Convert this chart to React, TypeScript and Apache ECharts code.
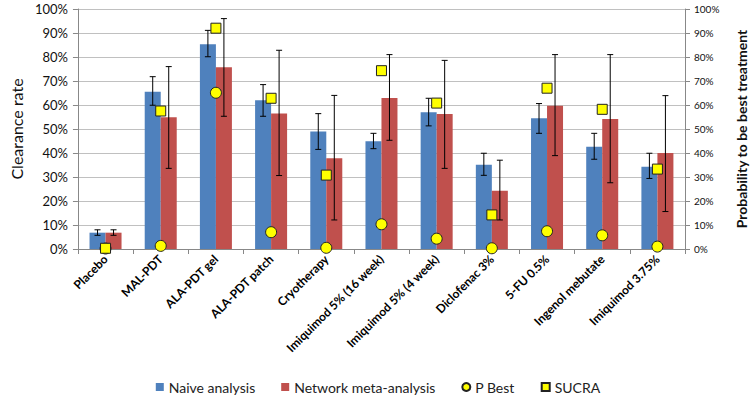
import React, { useEffect, useRef } from "react";
import * as echarts from "echarts";

const categories = [
  "Placebo",
  "MAL-PDT",
  "ALA-PDT gel",
  "ALA-PDT patch",
  "Cryotherapy",
  "Imiquimod 5% (16 week)",
  "Imiquimod 5% (4 week)",
  "Diclofenac 3%",
  "5-FU 0.5%",
  "Ingenol mebutate",
  "Imiquimod 3.75%",
];
const naive = [6.8, 65.5, 85.3, 62, 49, 44.9, 57, 35.1, 54.5, 42.6, 34.3];
const naiveLow = [5.7, 59.9, 80.1, 55.3, 41.5, 41.8, 51.3, 30.7, 48.2, 37.4, 29.4];
const naiveHigh = [8, 71.8, 91.1, 68.5, 56.4, 48.2, 62.8, 39.9, 60.6, 48.2, 39.9];
const nma = [6.8, 54.9, 75.7, 56.5, 37.8, 62.9, 56.3, 24.3, 59.7, 54.2, 40];
const nmaLow = [5.7, 33.6, 55.3, 30.6, 12.1, 45.3, 33.6, 12.1, 38.9, 27.6, 15.6];
const nmaHigh = [8, 76, 96, 82.8, 64, 81, 78.6, 37, 81, 81, 63.9];
const pBest = [0.2, 1.3, 65.1, 7, 0.5, 10.3, 4.3, 0.3, 7.4, 5.7, 1];
const sucra = [0.3, 57.5, 92, 62.8, 30.8, 74.3, 60.8, 14.2, 67, 58.2, 33.3];

const FONT = "Lato, 'Open Sans', sans-serif";
const BAR_FRAC = 0.29;

export default function App() {
  const ref = useRef<HTMLDivElement>(null);
  useEffect(() => {
    if (!ref.current) return;
    const chart = echarts.init(ref.current, null, { renderer: "svg" });

    const errData: number[][] = [];
    categories.forEach((_, i) => {
      errData.push([i, naiveLow[i], naiveHigh[i], -1]);
      errData.push([i, nmaLow[i], nmaHigh[i], 1]);
    });

    const renderErr = (params: any, api: any) => {
      const idx = api.value(0);
      const lo = api.coord([idx, api.value(1)]);
      const hi = api.coord([idx, api.value(2)]);
      const side = api.value(3);
      const band = api.size([1, 0])[0];
      const x = lo[0] + (side * band * BAR_FRAC) / 2;
      const cap = 3;
      const style = { stroke: "#000", lineWidth: 1 };
      return {
        type: "group",
        children: [
          { type: "line", shape: { x1: x, y1: lo[1], x2: x, y2: hi[1] }, style },
          { type: "line", shape: { x1: x - cap, y1: lo[1], x2: x + cap, y2: lo[1] }, style },
          { type: "line", shape: { x1: x - cap, y1: hi[1], x2: x + cap, y2: hi[1] }, style },
        ],
      };
    };

    const axisLineStyle = { color: "#888", width: 1 };

    chart.setOption({
      animation: false,
      textStyle: { fontFamily: FONT },
      grid: { left: 70, right: 66, top: 9, bottom: 151 },
      legend: {
        bottom: 1,
        left: "center",
        itemGap: 26,
        itemWidth: 8,
        itemHeight: 8,
        textStyle: { fontSize: 14, color: "#222", fontFamily: FONT },
        data: [
          { name: "Naive analysis", icon: "rect" },
          { name: "Network meta-analysis", icon: "rect" },
          { name: "P Best", icon: "circle" },
          { name: "SUCRA", icon: "rect" },
        ],
      },
      xAxis: {
        type: "category",
        data: categories,
        axisLine: { lineStyle: axisLineStyle },
        axisTick: { show: true, length: 5, lineStyle: axisLineStyle },
        axisLabel: {
          rotate: 45,
          interval: 0,
          fontSize: 12,
          fontWeight: "bold",
          color: "#000",
          margin: 8,
        },
      },
      yAxis: [
        {
          type: "value",
          min: 0,
          max: 100,
          interval: 10,
          name: "Clearance rate",
          nameLocation: "middle",
          nameGap: 46,
          nameTextStyle: { fontSize: 16, color: "#111" },
          axisLine: { show: true, lineStyle: axisLineStyle },
          axisTick: { show: true, length: 5, lineStyle: axisLineStyle },
          splitLine: { lineStyle: { color: "#c0c0c0", width: 1 } },
          axisLabel: { formatter: "{value}%", fontSize: 13, color: "#111", margin: 10 },
        },
        {
          type: "value",
          min: 0,
          max: 100,
          interval: 10,
          name: "Probability to be best treatment",
          nameLocation: "middle",
          nameRotate: 90,
          nameGap: 49,
          nameTextStyle: { fontSize: 14, color: "#111", fontWeight: "bold" },
          axisLine: { show: true, lineStyle: axisLineStyle },
          axisTick: { show: true, length: 5, lineStyle: axisLineStyle },
          splitLine: { show: false },
          axisLabel: { formatter: "{value}%", fontSize: 10, color: "#111", margin: 9 },
        },
      ],
      series: [
        {
          name: "Naive analysis",
          type: "bar",
          data: naive,
          barWidth: BAR_FRAC * 100 + "%",
          barGap: "0%",
          itemStyle: { color: "#4F81BD" },
        },
        {
          name: "Network meta-analysis",
          type: "bar",
          data: nma,
          barWidth: BAR_FRAC * 100 + "%",
          barGap: "0%",
          itemStyle: { color: "#C0504D" },
        },
        {
          name: "errors",
          type: "custom",
          renderItem: renderErr,
          data: errData,
          z: 5,
          encode: { x: 0, y: [1, 2] },
        },
        {
          name: "P Best",
          type: "scatter",
          yAxisIndex: 1,
          data: pBest,
          symbol: "circle",
          symbolSize: 11,
          itemStyle: { color: "#FFFF00", borderColor: "#222", borderWidth: 1, opacity: 1 },
          z: 6,
        },
        {
          name: "SUCRA",
          type: "scatter",
          yAxisIndex: 1,
          data: sucra,
          symbol: "rect",
          symbolSize: 10,
          itemStyle: { color: "#FFFF00", borderColor: "#222", borderWidth: 1, opacity: 1 },
          z: 7,
        },
      ],
    });
    return () => chart.dispose();
  }, []);
  return (
    <div
      ref={ref}
      style={{ position: "fixed", left: 0, top: 0, width: 756, height: 400, background: "#fff" }}
    />
  );
}
